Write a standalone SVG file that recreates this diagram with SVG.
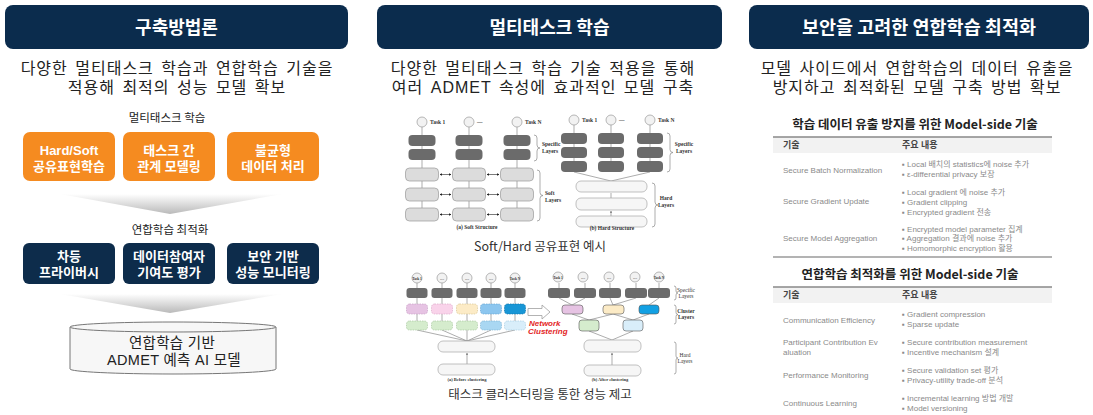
<svg xmlns="http://www.w3.org/2000/svg" width="1093" height="415" viewBox="0 0 1093 415">
  <defs>
    <style>
      .hdr { fill: #0b2c4d; }
      .hdr-t { font-family: "Noto Sans CJK KR", sans-serif; font-weight: 700; font-size: 18px; fill: #ffffff; text-anchor: middle; }
      .sub { font-family: "Liberation Sans", "Noto Sans CJK KR", sans-serif; font-size: 16px; letter-spacing: 1px; word-spacing: 2px; fill: #222222; text-anchor: middle; }
      .cyl-t { font-family: "Liberation Sans", "Noto Sans CJK KR", sans-serif; font-size: 14.5px; letter-spacing: 0.3px; fill: #222222; text-anchor: middle; }
      .lbl { font-family: "Noto Sans CJK KR", sans-serif; font-size: 11.5px; fill: #222222; text-anchor: middle; }
      .obox { fill: #f58b20; }
      .nbox { fill: #0d2c4b; }
      .bt { font-family: "Liberation Sans", "Noto Sans CJK KR", sans-serif; font-weight: 700; font-size: 13px; fill: #ffffff; text-anchor: middle; }
      .cap { font-family: "Noto Sans CJK KR", sans-serif; font-size: 12.5px; fill: #333333; text-anchor: middle; }
      .tiny { font-family: "Liberation Serif", serif; font-weight: 700; font-size: 5.5px; fill: #333333; }
      .tinyc { font-family: "Liberation Serif", serif; font-weight: 700; font-size: 5.5px; fill: #333333; text-anchor: middle; }
      .dk { fill: #6b6b6b; }
      .lt { fill: #dcdcdc; stroke: #9a9a9a; stroke-width: 0.7; }
      .hl { fill: #f6f6f6; stroke: #a8a8a8; stroke-width: 0.7; }
      .node { fill: #f2f2f2; stroke: #999999; stroke-width: 0.7; }
      .ln { stroke: #8a8a8a; stroke-width: 0.7; fill: none; }
      .brace { stroke: #8a8a8a; stroke-width: 0.7; fill: none; }
      .dash { stroke-width: 0.7; stroke-dasharray: 1.5 1; }
      .tt { font-family: "Noto Sans CJK KR", sans-serif; font-weight: 700; font-size: 12.5px; fill: #222222; text-anchor: middle; }
      .th { font-family: "Liberation Sans", "Noto Sans CJK KR", sans-serif; font-weight: 700; font-size: 9px; fill: #444444; }
      .td { font-family: "Liberation Sans", "Noto Sans CJK KR", sans-serif; font-size: 8px; fill: #8a8a8a; }
      .red { font-family: "Liberation Sans", sans-serif; font-weight: 700; font-style: italic; font-size: 8px; fill: #e32626; }
    </style>
    <linearGradient id="funnel" x1="0" y1="0" x2="0" y2="1">
      <stop offset="0" stop-color="#ffffff"/>
      <stop offset="1" stop-color="#b9b9b9"/>
    </linearGradient>
    <marker id="ah" viewBox="0 0 6 6" refX="5" refY="3" markerWidth="4" markerHeight="4" orient="auto-start-reverse">
      <path d="M0,0 L6,3 L0,6 z" fill="#222222"/>
    </marker>
    <marker id="ahg" viewBox="0 0 6 6" refX="5" refY="3" markerWidth="3.5" markerHeight="3.5" orient="auto">
      <path d="M0,0 L6,3 L0,6 z" fill="#8a8a8a"/>
    </marker>
  </defs>
  <rect width="1093" height="415" fill="#ffffff"/>

  <!-- ===== Column 1: methodology ===== -->
  <g id="hdr-method">
    <rect class="hdr" x="5" y="5" width="343" height="44" rx="8"/>
    <text class="hdr-t" x="176.5" y="34">구축방법론</text>
  </g>
  <g id="sub-method">
    <text class="sub" x="177" y="74">다양한 멀티태스크 학습과 연합학습 기술을</text>
    <text class="sub" x="177" y="93">적용해 최적의 성능 모델 확보</text>
  </g>
  <text class="lbl" x="167" y="122">멀티태스크 학습</text>

  <g id="mt-hardsoft">
    <rect class="obox" x="23" y="132" width="92" height="49" rx="7"/>
    <text class="bt" x="69" y="155">Hard/Soft</text>
    <text class="bt" x="69" y="171">공유표현학습</text>
  </g>
  <g id="mt-relation">
    <rect class="obox" x="123" y="132" width="92" height="49" rx="7"/>
    <text class="bt" x="169" y="155">태스크 간</text>
    <text class="bt" x="169" y="171">관계 모델링</text>
  </g>
  <g id="mt-imbalance">
    <rect class="obox" x="227" y="132" width="92" height="49" rx="7"/>
    <text class="bt" x="273" y="155">불균형</text>
    <text class="bt" x="273" y="171">데이터 처리</text>
  </g>

  <g id="connectors">
    <polygon points="60,194 282,194 170,214" fill="url(#funnel)"/>
    <polygon points="60,294 282,294 170,313" fill="url(#funnel)"/>
  </g>

  <text class="lbl" x="170" y="234">연합학습 최적화</text>

  <g id="fl-dp">
    <rect class="nbox" x="23" y="243" width="92" height="41" rx="6"/>
    <text class="bt" x="69" y="261">차등</text>
    <text class="bt" x="69" y="277">프라이버시</text>
  </g>
  <g id="fl-contrib">
    <rect class="nbox" x="123" y="243" width="92" height="41" rx="6"/>
    <text class="bt" x="169" y="261">데이터참여자</text>
    <text class="bt" x="169" y="277">기여도 평가</text>
  </g>
  <g id="fl-monitor">
    <rect class="nbox" x="227" y="243" width="92" height="41" rx="6"/>
    <text class="bt" x="273" y="261">보안 기반</text>
    <text class="bt" x="273" y="277">성능 모니터링</text>
  </g>

  <g id="model-db">
    <path d="M70,327 V369 A103,5 0 0 0 276,369 V327" fill="#f7f7f7" stroke="#777777" stroke-width="1"/>
    <ellipse cx="173" cy="327" rx="103" ry="5" fill="#f7f7f7" stroke="#777777" stroke-width="1"/>
    <text class="cyl-t" x="172" y="348">연합학습 기반</text>
    <text class="cyl-t" x="174" y="365">ADMET 예측 AI 모델</text>
  </g>

  <!-- ===== Column 2: multi-task learning ===== -->
  <g id="hdr-mtl">
    <rect class="hdr" x="377" y="5" width="345" height="44" rx="8"/>
    <text class="hdr-t" x="549.5" y="34">멀티태스크 학습</text>
  </g>
  <g id="sub-mtl">
    <text class="sub" x="543" y="74">다양한 멀티태스크 학습 기술 적용을 통해</text>
    <text class="sub" x="543" y="93">여러 ADMET 속성에 효과적인 모델 구축</text>
  </g>

  <!-- soft parameter sharing -->
  <g id="fig-soft">
    <path class="ln" d="M422,127 V221 M469,127 V221 M517,127 V221"/>
    <circle class="node" cx="422" cy="122" r="5"/>
    <circle class="node" cx="469" cy="122" r="5"/>
    <circle class="node" cx="517" cy="122" r="5"/>
    <text class="tiny" x="430" y="124">Task 1</text>
    <text class="tiny" x="477" y="124">—</text>
    <text class="tiny" x="525" y="124">Task N</text>
    <rect class="dk" x="408.5" y="135" width="27" height="11" rx="4"/>
    <rect class="dk" x="408.5" y="149" width="27" height="11" rx="4"/>
    <rect class="dk" x="455.5" y="135" width="27" height="11" rx="4"/>
    <rect class="dk" x="455.5" y="149" width="27" height="11" rx="4"/>
    <rect class="dk" x="503.5" y="135" width="27" height="11" rx="4"/>
    <rect class="dk" x="503.5" y="149" width="27" height="11" rx="4"/>
    <rect class="lt" x="405.5" y="168" width="33" height="13" rx="4"/>
    <rect class="lt" x="405.5" y="188" width="33" height="13" rx="4"/>
    <rect class="lt" x="405.5" y="208" width="33" height="13" rx="4"/>
    <rect class="lt" x="452.5" y="168" width="33" height="13" rx="4"/>
    <rect class="lt" x="452.5" y="188" width="33" height="13" rx="4"/>
    <rect class="lt" x="452.5" y="208" width="33" height="13" rx="4"/>
    <rect class="lt" x="500.5" y="168" width="33" height="13" rx="4"/>
    <rect class="lt" x="500.5" y="188" width="33" height="13" rx="4"/>
    <rect class="lt" x="500.5" y="208" width="33" height="13" rx="4"/>
    <g stroke="#222222" stroke-width="0.6" marker-start="url(#ah)" marker-end="url(#ah)">
      <line x1="440" y1="174.5" x2="451" y2="174.5"/>
      <line x1="440" y1="194.5" x2="451" y2="194.5"/>
      <line x1="440" y1="214.5" x2="451" y2="214.5"/>
      <line x1="487" y1="174.5" x2="499" y2="174.5"/>
      <line x1="487" y1="194.5" x2="499" y2="194.5"/>
      <line x1="487" y1="214.5" x2="499" y2="214.5"/>
    </g>
    <path class="brace" d="M534,135 q3,0 3,3 V145 q0,3 3,3 q-3,0 -3,3 V158 q0,3 -3,3"/>
    <text class="tiny" x="542" y="146">Specific</text>
    <text class="tiny" x="542" y="153">Layers</text>
    <path class="brace" d="M537,170 q3,0 3,3 V192.5 q0,3 3,3 q-3,0 -3,3 V218 q0,3 -3,3"/>
    <text class="tiny" x="545" y="195">Soft</text>
    <text class="tiny" x="545" y="202">Layers</text>
    <text class="tinyc" x="477" y="229">(a) Soft Structure</text>
  </g>

  <!-- hard parameter sharing -->
  <g id="fig-hard">
    <path class="ln" d="M574,125 V172 M611,125 V172 M650,125 V172 M574,172 L611,181 M650,172 L611,181"/>
    <circle class="node" cx="574" cy="120" r="5"/>
    <circle class="node" cx="611" cy="120" r="5"/>
    <circle class="node" cx="650" cy="120" r="5"/>
    <text class="tiny" x="582" y="122">Task 1</text>
    <text class="tiny" x="619" y="122">—</text>
    <text class="tiny" x="658" y="122">Task N</text>
    <rect class="dk" x="561" y="133" width="26" height="11" rx="4"/>
    <rect class="dk" x="561" y="147" width="26" height="11" rx="4"/>
    <rect class="dk" x="561" y="161" width="26" height="11" rx="4"/>
    <rect class="dk" x="598" y="133" width="26" height="11" rx="4"/>
    <rect class="dk" x="598" y="147" width="26" height="11" rx="4"/>
    <rect class="dk" x="598" y="161" width="26" height="11" rx="4"/>
    <rect class="dk" x="637" y="133" width="26" height="11" rx="4"/>
    <rect class="dk" x="637" y="147" width="26" height="11" rx="4"/>
    <rect class="dk" x="637" y="161" width="26" height="11" rx="4"/>
    <path class="ln" d="M611,198 V193 M611,216 V211" marker-end="url(#ahg)"/>
    <rect class="hl" x="576" y="181" width="71" height="11" rx="5"/>
    <rect class="hl" x="576" y="198" width="71" height="12" rx="5"/>
    <rect class="hl" x="576" y="216" width="71" height="11" rx="5"/>
    <path class="brace" d="M667,133 q3,0 3,3 V149.5 q0,3 3,3 q-3,0 -3,3 V169 q0,3 -3,3"/>
    <text class="tinyc" x="684" y="146">Specific</text>
    <text class="tinyc" x="684" y="153">Layers</text>
    <path class="brace" d="M652,183 q3,0 3,3 V202 q0,3 3,3 q-3,0 -3,3 V224 q0,3 -3,3"/>
    <text class="tinyc" x="666" y="200">Hard</text>
    <text class="tinyc" x="666" y="207">Layers</text>
    <text class="tinyc" x="612" y="230">(b) Hard Structure</text>
  </g>
  <text class="cap" x="540" y="251">Soft/Hard 공유표현 예시</text>

  <!-- before clustering -->
  <g id="fig-before">
    <path class="ln" d="M417,283 V321 M442,283 V321 M467,283 V321 M491,283 V321 M515,283 V321"/>
    <path class="ln" d="M417,330 L467,341 M442,330 L467,341 M467,330 V341 M491,330 L467,341 M515,330 L467,341"/>
    <path class="ln" d="M467,364 V353" marker-end="url(#ahg)"/>
    <g class="node">
      <circle cx="417" cy="278" r="5"/><circle cx="442" cy="278" r="5"/><circle cx="467" cy="278" r="5"/><circle cx="491" cy="278" r="5"/><circle cx="515" cy="278" r="5"/>
    </g>
    <text class="tinyc" x="417" y="279.5" style="font-size:3.5px">Task 1</text>
    <text class="tinyc" x="442" y="279.5" style="font-size:4px">---</text>
    <text class="tinyc" x="467" y="279.5" style="font-size:4px">---</text>
    <text class="tinyc" x="491" y="279.5" style="font-size:4px">---</text>
    <text class="tinyc" x="515" y="279.5" style="font-size:3.5px">Task N</text>
    <g class="dk">
      <rect x="406.5" y="288" width="21" height="10" rx="3"/><rect x="431.5" y="288" width="21" height="10" rx="3"/><rect x="456.5" y="288" width="21" height="10" rx="3"/><rect x="480.5" y="288" width="21" height="10" rx="3"/><rect x="504.5" y="288" width="21" height="10" rx="3"/>
    </g>
    <g class="dash">
      <rect x="406.5" y="304" width="21" height="10" rx="3" fill="#e6c3e3" stroke="#c9a0c6"/>
      <rect x="431.5" y="304" width="21" height="10" rx="3" fill="#f9d3ea" stroke="#dcaac8"/>
      <rect x="456.5" y="304" width="21" height="10" rx="3" fill="#fcebc6" stroke="#d9c594"/>
      <rect x="480.5" y="304" width="21" height="10" rx="3" fill="#8cc6ef" stroke="#6aa6d2"/>
      <rect x="504.5" y="304" width="21" height="10" rx="3" fill="#1896d6" stroke="#1174a9"/>
      <rect x="406.5" y="321" width="21" height="9" rx="3" fill="#d5eccd" stroke="#a9c9a0"/>
      <rect x="431.5" y="321" width="21" height="9" rx="3" fill="#d5eccd" stroke="#a9c9a0"/>
      <rect x="456.5" y="321" width="21" height="9" rx="3" fill="#d5eccd" stroke="#a9c9a0"/>
      <rect x="480.5" y="321" width="21" height="9" rx="3" fill="#a9d7f2" stroke="#80b6d6"/>
      <rect x="504.5" y="321" width="21" height="9" rx="3" fill="#d9eefa" stroke="#a6cde2"/>
    </g>
    <rect class="hl" x="438" y="341" width="57" height="11" rx="5"/>
    <rect class="hl" x="438" y="364" width="57" height="11" rx="5"/>
    <text class="tinyc" x="467" y="381" style="font-size:4.5px">(a) Before clustering</text>
  </g>

  <g id="cluster-arrow">
    <path d="M528,308.5 H542 V305 L550,312 L542,319 V315.5 H528 Z" fill="#ffffff" stroke="#a0a0a0" stroke-width="0.8"/>
    <text class="red" x="529" y="326">Network</text>
    <text class="red" x="528" y="334">Clustering</text>
  </g>

  <!-- after clustering -->
  <g id="fig-after">
    <path class="ln" d="M559,283 V288 M585,283 V288 M610,283 V288 M636,283 V288 M659,283 V288"/>
    <path class="ln" d="M559,298 L572,305 M585,298 L572,305 M610,298 L613,305 M636,298 L613,305 M659,298 L649,305"/>
    <path class="ln" d="M572,314 L589,320 M613,314 L589,320 M613,314 L633,320 M649,314 L633,320"/>
    <path class="ln" d="M589,331 L612,340 M633,331 L612,340"/>
    <path class="ln" d="M612,365 V353" marker-end="url(#ahg)"/>
    <g class="node">
      <circle cx="558" cy="277" r="5"/><circle cx="583" cy="277" r="5"/><circle cx="609" cy="277" r="5"/><circle cx="635" cy="277" r="5"/><circle cx="659" cy="277" r="5"/>
    </g>
    <text class="tinyc" x="558" y="278.5" style="font-size:3.5px">Task 1</text>
    <text class="tinyc" x="583" y="278.5" style="font-size:4px">---</text>
    <text class="tinyc" x="609" y="278.5" style="font-size:4px">---</text>
    <text class="tinyc" x="635" y="278.5" style="font-size:4px">---</text>
    <text class="tinyc" x="659" y="278.5" style="font-size:3.5px">Task N</text>
    <g class="dk">
      <rect x="548" y="288" width="22" height="10" rx="3"/><rect x="574" y="288" width="22" height="10" rx="3"/><rect x="599" y="288" width="22" height="10" rx="3"/><rect x="625" y="288" width="22" height="10" rx="3"/><rect x="648" y="288" width="22" height="10" rx="3"/>
    </g>
    <rect x="562" y="305" width="21" height="9" rx="3" fill="#e6c3e3" stroke="#555555" stroke-width="0.6"/>
    <rect x="603" y="305" width="21" height="9" rx="3" fill="#fcebc6" stroke="#555555" stroke-width="0.6"/>
    <rect x="639" y="305" width="20" height="9" rx="3" fill="#12a0e3" stroke="#555555" stroke-width="0.6"/>
    <rect x="579" y="320" width="20" height="11" rx="3" fill="#d5eccd" stroke="#555555" stroke-width="0.6"/>
    <rect x="623" y="320" width="20" height="11" rx="3" fill="#d9eefa" stroke="#555555" stroke-width="0.6"/>
    <rect class="hl" x="584" y="340" width="57" height="12" rx="5"/>
    <rect class="hl" x="584" y="365" width="57" height="11" rx="5"/>
    <path class="brace" d="M674,286 q2,0 2,2 V291 q0,2 2,2 q-2,0 -2,2 V298 q0,2 -2,2"/>
    <text class="tinyc" x="686" y="292" style="font-weight:400">Specific</text>
    <text class="tinyc" x="686" y="298" style="font-weight:400">Layers</text>
    <path class="brace" d="M674,305 q2,0 2,2 V312.5 q0,2 2,2 q-2,0 -2,2 V322 q0,2 -2,2"/>
    <text class="tinyc" x="686" y="313">Cluster</text>
    <text class="tinyc" x="686" y="319">Layers</text>
    <path class="brace" d="M674,342 q2,0 2,2 V356 q0,2 2,2 q-2,0 -2,2 V372 q0,2 -2,2"/>
    <text class="tinyc" x="685" y="357" style="font-weight:400">Hard</text>
    <text class="tinyc" x="685" y="363" style="font-weight:400">Layers</text>
    <text class="tinyc" x="610" y="381" style="font-size:4.5px">(b) After clustering</text>
  </g>
  <text class="cap" x="540" y="399">태스크 클러스터링을 통한 성능 제고</text>

  <!-- ===== Column 3: secure federated learning ===== -->
  <g id="hdr-secure">
    <rect class="hdr" x="749" y="5" width="340" height="44" rx="8"/>
    <text class="hdr-t" x="919" y="34" style="font-size:18.5px">보안을 고려한 연합학습 최적화</text>
  </g>
  <g id="sub-secure">
    <text class="sub" x="917" y="74">모델 사이드에서 연합학습의 데이터 유출을</text>
    <text class="sub" x="917" y="93">방지하고 최적화된 모델 구축 방법 확보</text>
  </g>

  <g id="table-leakage">
    <text class="tt" x="915" y="129">학습 데이터 유출 방지를 위한 Model-side 기술</text>
    <rect x="773" y="137" width="279" height="16" fill="#f2f2f2"/>
    <line x1="773" y1="137" x2="1052" y2="137" stroke="#888888" stroke-width="1.5"/>
    <text class="th" x="783" y="148">기술</text>
    <text class="th" x="902" y="148">주요 내용</text>
    <text class="td" x="783" y="173">Secure Batch Normalization</text>
    <text class="td" x="902" y="167">▪ Local 배치의 statistics에 noise 추가</text>
    <text class="td" x="902" y="177">▪ ε-differential privacy 보장</text>
    <text class="td" x="783" y="204">Secure Gradient Update</text>
    <text class="td" x="902" y="195">▪ Local gradient 에 noise 추가</text>
    <text class="td" x="902" y="205">▪ Gradient clipping</text>
    <text class="td" x="902" y="214.5">▪ Encrypted gradient 전송</text>
    <text class="td" x="783" y="241">Secure Model Aggregation</text>
    <text class="td" x="902" y="231.5">▪ Encrypted model parameter 집계</text>
    <text class="td" x="902" y="241">▪ Aggregation 결과에 noise 추가</text>
    <text class="td" x="902" y="250.5">▪ Homomorphic encryption 활용</text>
    <line x1="773" y1="257" x2="1052" y2="257" stroke="#9a9a9a" stroke-width="1.5"/>
  </g>

  <g id="table-optim">
    <text class="tt" x="910" y="279">연합학습 최적화를 위한 Model-side 기술</text>
    <rect x="773" y="287" width="279" height="16" fill="#f2f2f2"/>
    <line x1="773" y1="287" x2="1052" y2="287" stroke="#888888" stroke-width="1.5"/>
    <text class="th" x="783" y="298">기술</text>
    <text class="th" x="902" y="298">주요 내용</text>
    <text class="td" x="783" y="323">Communication Efficiency</text>
    <text class="td" x="902" y="317">▪ Gradient compression</text>
    <text class="td" x="902" y="327">▪ Sparse update</text>
    <text class="td" x="783" y="345">Participant Contribution Ev</text>
    <text class="td" x="783" y="354.5">aluation</text>
    <text class="td" x="902" y="345">▪ Secure contribution measurement</text>
    <text class="td" x="902" y="355">▪ Incentive mechanism 설계</text>
    <text class="td" x="783" y="378">Performance Monitoring</text>
    <text class="td" x="902" y="373">▪ Secure validation set 평가</text>
    <text class="td" x="902" y="383">▪ Privacy-utility trade-off 분석</text>
    <text class="td" x="783" y="406">Continuous Learning</text>
    <text class="td" x="902" y="401">▪ Incremental learning 방법 개발</text>
    <text class="td" x="902" y="411">▪ Model versioning</text>
  </g>
</svg>
